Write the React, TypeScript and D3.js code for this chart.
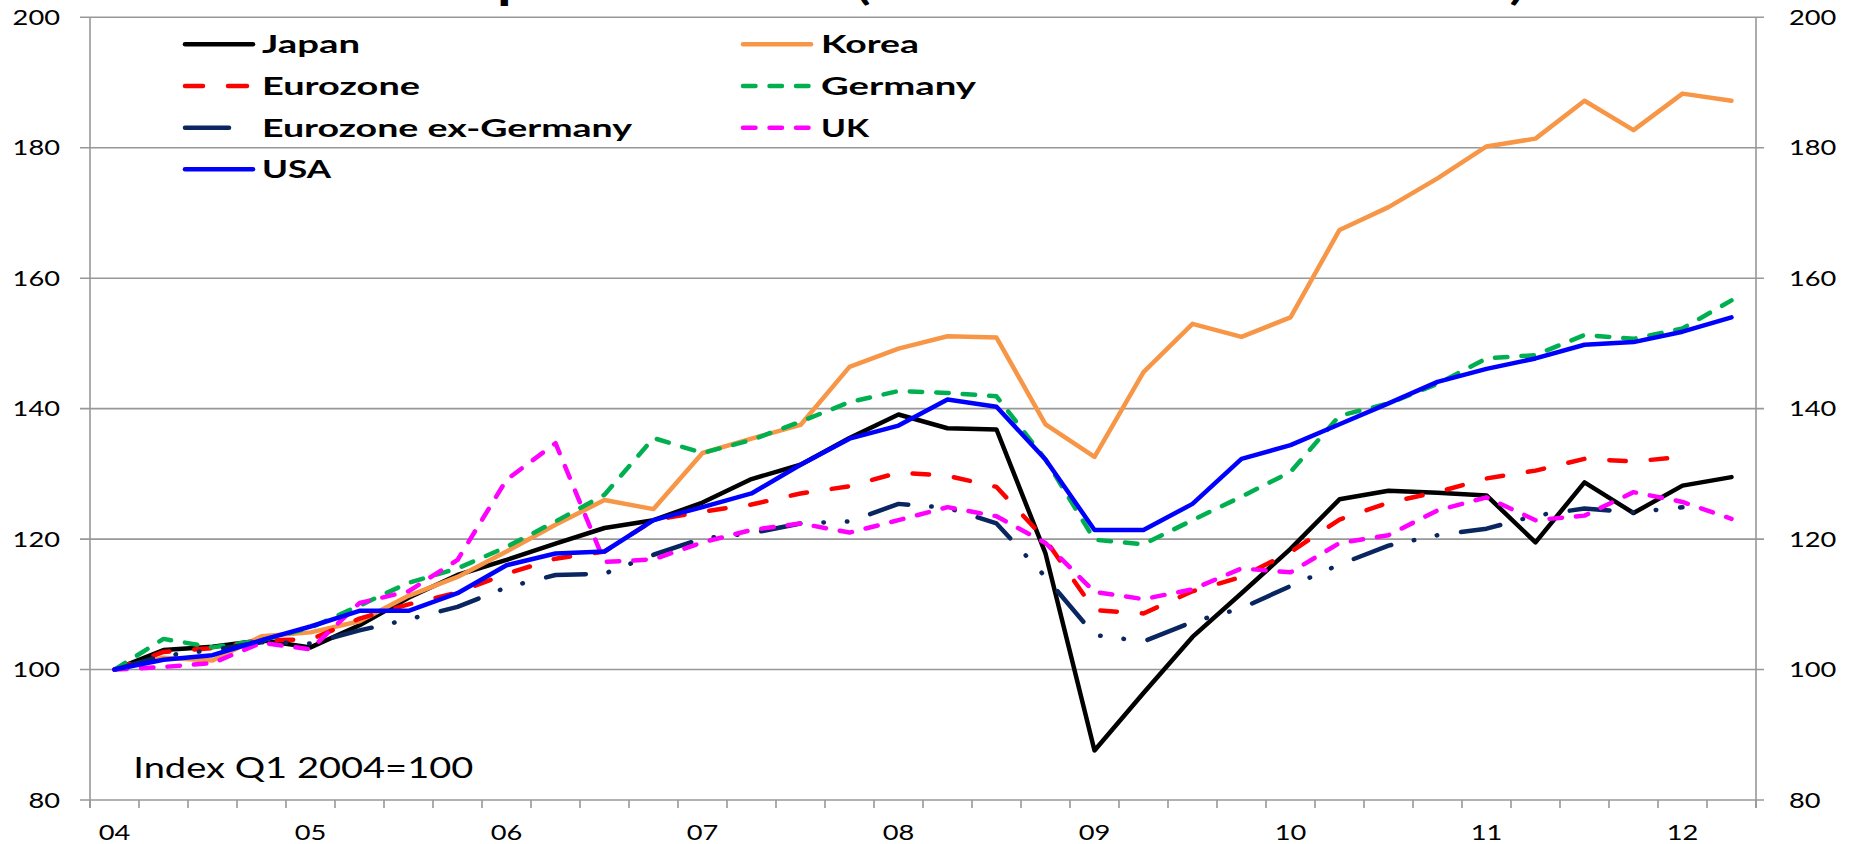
import React from "react";
import * as d3 from "d3";

const quarters = [
  "04Q1","04Q2","04Q3","04Q4","05Q1","05Q2","05Q3","05Q4",
  "06Q1","06Q2","06Q3","06Q4","07Q1","07Q2","07Q3","07Q4",
  "08Q1","08Q2","08Q3","08Q4","09Q1","09Q2","09Q3","09Q4",
  "10Q1","10Q2","10Q3","10Q4","11Q1","11Q2","11Q3","11Q4",
  "12Q1","12Q2",
];
const yearLabels = ["04","05","06","07","08","09","10","11","12"];
const yearLabelQuarters = ["04Q1","05Q1","06Q1","07Q1","08Q1","09Q1","10Q1","11Q1","12Q1"];
const yTicks = [80, 100, 120, 140, 160, 180, 200];

const japan = [100,103.0,103.5,104.5,103.4,106.8,111.0,114.5,116.8,119.3,121.7,122.9,125.6,129.2,131.4,135.5,139.1,137.0,136.8,117.8,87.6,96.4,105.0,111.7,118.5,126.1,127.4,127.1,126.7,119.5,128.7,124.0,128.2,129.5];
const korea = [100,101.8,101.4,105.1,105.7,107.4,111.3,114.2,118.1,122.2,126.0,124.6,133.2,135.4,137.5,146.4,149.2,151.1,150.9,137.6,132.6,145.6,153.0,151.0,154.0,167.4,170.9,175.3,180.2,181.4,187.2,182.7,188.3,187.2];
const eurozone = [100,102.7,103.3,104.5,104.6,107.8,110.0,111.8,114.7,117.0,118.1,122.9,124.2,125.3,127.0,128.1,130.2,129.7,128.0,119.9,109.1,108.6,112.0,114.2,118.0,123.0,125.6,127.2,129.3,130.5,132.3,131.9,132.6];
const germany = [100,104.7,103.4,104.5,106.4,109.8,113.3,115.5,118.8,122.7,126.8,135.5,133.2,135.2,138.0,141.0,142.7,142.4,141.9,132.2,119.9,119.2,122.9,126.5,130.3,138.9,140.8,143.8,147.7,148.2,151.3,150.7,152.3,156.6];
const ezExGermany = [100,102.1,103.0,104.2,104.0,106.0,107.7,109.6,112.6,114.5,114.7,117.6,120.1,120.9,122.4,122.7,125.4,124.8,122.4,114.2,105.3,104.3,107.3,109.4,112.8,116.1,119.0,120.6,121.6,123.6,124.7,124.1,124.9];
const uk = [100,100.4,101.0,104.1,103.1,110.2,112.0,116.8,129.1,134.7,116.5,116.9,119.5,121.4,122.4,121.0,122.9,124.9,123.5,119.4,111.9,110.8,112.3,115.5,114.9,119.4,120.6,124.4,126.4,122.9,123.6,127.2,125.7,123.1];
const usa = [100,101.5,102.2,104.5,106.6,109.0,109.0,111.7,116.0,117.8,118.1,122.9,124.9,127.0,131.4,135.4,137.4,141.4,140.3,132.2,121.4,121.4,125.4,132.3,134.4,137.6,140.8,144.1,146.1,147.7,149.8,150.2,151.8,154.0];

const seriesNames = ["Japan","Korea","Eurozone","Germany","Eurozone ex-Germany","UK","USA"];
const seriesValues = [japan, korea, eurozone, germany, ezExGermany, uk, usa];

const titleParts = ["Export volumes", "(real terms index 2004=100)"];

const styles: Record<string, { color: string; dash: string | null; legendW: number }> = {
  "Japan": { color: "#000000", dash: null, legendW: 98 },
  "Korea": { color: "#F79646", dash: null, legendW: 98 },
  "Eurozone": { color: "#FF0000", dash: "16.5 25", legendW: 158 },
  "Germany": { color: "#00B050", dash: "12.5 14", legendW: 155 },
  "Eurozone ex-Germany": { color: "#0A2660", dash: "40 23 0.5 23 0.5 24", legendW: 370 },
  "UK": { color: "#FF00FF", dash: "12.5 14", legendW: 48 },
  "USA": { color: "#0000FF", dash: null, legendW: 69 },
};

const W = 1854;
const H = 844;
const LEFT = 90;
const RIGHT = 1756;
const TOP = 17.3;
const BOTTOM = 800;
const FONT = "Lato, 'Open Sans', 'DejaVu Sans', sans-serif";
const GRID = "#989898";

export default function App() {
  const x = d3.scaleBand<string>().domain(quarters).range([LEFT, RIGHT]).paddingInner(0).paddingOuter(0);
  const bw = x.bandwidth();
  const cx = (q: string) => (x(q) as number) + bw / 2;
  const y = d3.scaleLinear().domain([80, 200]).range([BOTTOM, TOP]);

  const line = d3
    .line<number>()
    .x((_, i) => cx(quarters[i]))
    .y((d) => y(d));

  const boundaries = d3.range(quarters.length + 1).map((k) => LEFT + k * bw);

  const legendRows = [
    ["Japan", "Korea"],
    ["Eurozone", "Germany"],
    ["Eurozone ex-Germany", "UK"],
    ["USA"],
  ];
  const legendBaselines = [53.3, 95, 136.7, 178.3];
  const colSampleX = [183, 741];
  const colTextX = [262, 821];

  return (
    <div>
      <style>{`body{margin:0;background:#fff}`}</style>
      <svg width={W} height={H} style={{ display: "block", background: "#fff" }}>
        {/* title (mostly cropped off at the top, as in the source image) */}
        <text x={432} y={0} fontFamily={FONT} fontWeight={700} fontSize={36}
          textLength={410} lengthAdjust="spacingAndGlyphs" fill="#000">{titleParts[0]}</text>
        <text x={856} y={0} fontFamily={FONT} fontWeight={700} fontSize={36}
          textLength={668} lengthAdjust="spacingAndGlyphs" fill="#000">{titleParts[1]}</text>

        {/* gridlines */}
        {yTicks.map((t) => (
          <line key={"g" + t} x1={LEFT - 10} x2={RIGHT + 8} y1={y(t)} y2={y(t)} stroke={GRID} strokeWidth={1.6} />
        ))}
        {/* axes */}
        <line x1={LEFT} x2={LEFT} y1={TOP} y2={BOTTOM + 8} stroke={GRID} strokeWidth={1.6} />
        <line x1={RIGHT} x2={RIGHT} y1={TOP} y2={BOTTOM + 8} stroke={GRID} strokeWidth={1.6} />
        {boundaries.map((bx, k) => (
          <line key={"xt" + k} x1={bx} x2={bx} y1={BOTTOM} y2={BOTTOM + 8} stroke={GRID} strokeWidth={1.6} />
        ))}

        {/* y labels */}
        {yTicks.map((t) => {
          const s = String(t);
          return (
            <g key={"yl" + t}>
              <text x={60} y={y(t) + 7.5} textAnchor="end" fontFamily={FONT} fontSize={21}
                textLength={s.length * 15.8} lengthAdjust="spacingAndGlyphs" fill="#000">{s}</text>
              <text x={1789} y={y(t) + 7.5} textAnchor="start" fontFamily={FONT} fontSize={21}
                textLength={s.length * 15.8} lengthAdjust="spacingAndGlyphs" fill="#000">{s}</text>
            </g>
          );
        })}

        {/* x labels */}
        {yearLabels.map((lab, i) => (
          <text key={"xl" + lab} x={cx(yearLabelQuarters[i])} y={840} textAnchor="middle" fontFamily={FONT}
            fontSize={21} textLength={lab.length * 15.8} lengthAdjust="spacingAndGlyphs" fill="#000">{lab}</text>
        ))}

        {/* series */}
        {seriesNames.map((name, si) => {
          const st = styles[name];
          return (
            <path
              key={name}
              d={line(seriesValues[si]) || ""}
              fill="none"
              stroke={st.color}
              strokeWidth={4.5}
              strokeDasharray={st.dash || undefined}
              strokeLinecap="round"
              strokeLinejoin="round"
            />
          );
        })}

        {/* note */}
        <text x={133.3} y={778.3} fontFamily={FONT} fontSize={28} textLength={340}
          lengthAdjust="spacingAndGlyphs" fill="#000">Index Q1 2004=100</text>

        {/* legend */}
        {legendRows.map((row, r) =>
          row.map((name, c) => {
            const st = styles[name];
            const by = legendBaselines[r];
            const ly = by - 9;
            const sx = colSampleX[c];
            let sample: React.ReactNode;
            if (name === "Eurozone") {
              sample = (
                <g>
                  <line x1={sx + 2} x2={sx + 20} y1={ly} y2={ly} stroke={st.color} strokeWidth={4.5} strokeLinecap="round" />
                  <line x1={sx + 45} x2={sx + 64} y1={ly} y2={ly} stroke={st.color} strokeWidth={4.5} strokeLinecap="round" />
                </g>
              );
            } else if (name === "Eurozone ex-Germany") {
              sample = <line x1={sx + 2} x2={sx + 46} y1={ly} y2={ly} stroke={st.color} strokeWidth={4.5} strokeLinecap="round" />;
            } else {
              sample = (
                <line x1={sx + 2} x2={sx + 70} y1={ly} y2={ly} stroke={st.color} strokeWidth={4.5}
                  strokeLinecap="round" strokeDasharray={st.dash || undefined} />
              );
            }
            return (
              <g key={"lg" + name}>
                {sample}
                <text x={colTextX[c]} y={by} fontFamily={FONT} fontWeight={700} fontSize={25.5}
                  textLength={st.legendW} lengthAdjust="spacingAndGlyphs" fill="#000">{name}</text>
              </g>
            );
          })
        )}
      </svg>
    </div>
  );
}
